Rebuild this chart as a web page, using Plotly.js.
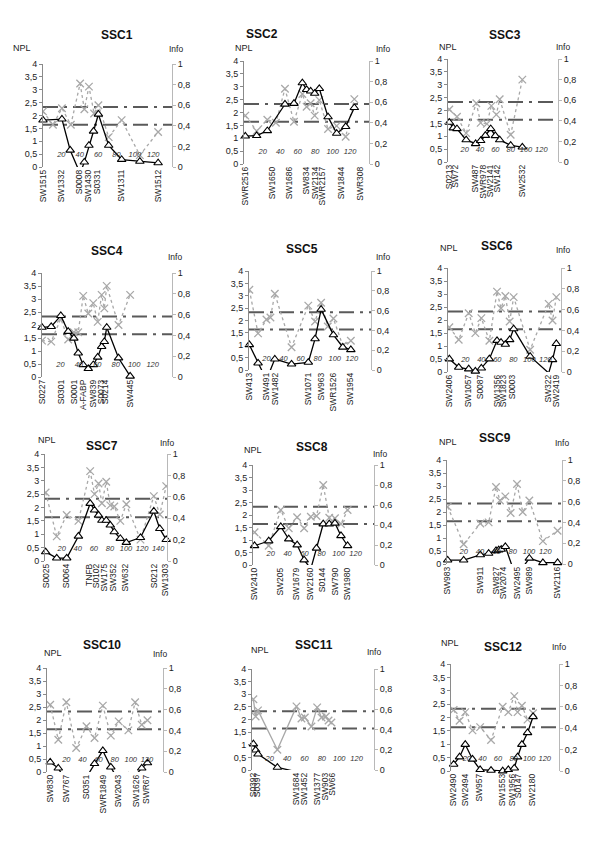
<!DOCTYPE html>
<html><head><meta charset="utf-8">
<script src="https://cdn.plot.ly/plotly-3.0.1.min.js"></script>
<style>body{margin:0;background:#fff}#c{width:600px;height:850px}</style>
</head><body><div id="c"></div>
<script>
// ---------------- DATA ----------------
const thresholds = [2.33, 1.64];
const cmTicks = [20, 40, 60, 80, 100, 120];
const cmTicks7 = [20, 40, 60, 80, 100, 120, 140];

const ssc1_cm = [0, 20.6, 29.6, 40.4, 45, 50, 55, 60.3, 71.5, 85.6, 105.4, 125.3];
const ssc1_npl = [1.82, 1.86, 0.65, -0.25, 0.19, 0.84, 1.39, 2.05, 0.84, 0.29, 0.22, 0.16];
const ssc1_info_cm = [0, 10.8, 20.6, 30.3, 40.4, 45, 50, 55.6, 60.3, 71.5, 85.6, 105.4, 125.3];
const ssc1_info = [0.54, 0.41, 0.57, 0.41, 0.81, 0.56, 0.78, 0.52, 0.60, 0.29, 0.455, 0.115, 0.34];
const ssc1_markers = ['SW1515', 'SW1332', 'S0008', 'SW1430', 'S0331', 'SW1311', 'SW1512'];
const ssc1_marker_cm = [0, 20.2, 39.4, 49.5, 59.2, 85.6, 125.3];

const ssc2_cm = [0, 13, 25.2, 45.4, 55.7, 65.3, 70.2, 74.8, 79.4, 84.7, 94.7, 104.6, 114.9, 124.8];
const ssc2_npl = [1.08, 1.10, 1.29, 2.32, 2.35, 3.15, 2.89, 2.83, 2.74, 2.93, 1.83, 1.19, 1.45, 2.19];
const ssc2_info_cm = [0, 13, 25.2, 35, 45.4, 55.7, 65.3, 70.2, 74.8, 79.4, 84.7, 94.7, 104.6, 114.9, 124.8];
const ssc2_info = [0.47, 0.32, 0.43, 0.40, 0.73, 0.41, 0.68, 0.555, 0.59, 0.47, 0.62, 0.34, 0.37, 0.265, 0.63];
const ssc2_markers = ['SWR2516', 'SW1650', 'SW1686', 'SW834', 'SW2134', 'SWR2157', 'SW1844', 'SWR308'];
const ssc2_marker_cm = [0, 31.3, 50.4, 70.2, 79.8, 88.5, 110.3, 131.3];

const ssc3_cm = [0, 5.2, 10, 22, 34.3, 40.9, 47, 54, 60, 65.7, 80, 95.2];
const ssc3_npl = [1.54, 1.32, 1.29, 0.86, 0.71, 0.83, 1.03, 1.29, 1.02, 0.86, 0.645, 0.58];
const ssc3_info_cm = [0, 10, 22, 35.2, 40.9, 49, 54.8, 61.3, 65.7, 80, 95.2];
const ssc3_info = [0.51, 0.44, 0.28, 0.57, 0.38, 0.37, 0.545, 0.46, 0.61, 0.265, 0.80];
const ssc3_markers = ['S0213', 'SW72', 'SW487', 'SWR978', 'SW2141', 'SW142', 'SW2532'];
const ssc3_marker_cm = [0, 8.3, 34.3, 43.9, 53.5, 62.6, 94.8];

const ssc4_cm = [0, 10, 20.4, 28.4, 34.5, 39.3, 44.7, 50.2, 55.6, 60.4, 64.7, 67.6, 70.2, 83, 95.6];
const ssc4_npl = [1.91, 1.94, 2.36, 1.75, 1.49, 0.92, 0.47, 0.32, 0.47, 0.76, 1.17, 1.36, 1.91, 0.73, 0.03];
const ssc4_info_cm = [0, 10, 20.4, 28.4, 34.5, 39.3, 44.7, 50.2, 55.6, 60.4, 64.7, 67.6, 70.2, 83, 95.6];
const ssc4_info = [0.35, 0.34, 0.56, 0.36, 0.43, 0.43, 0.78, 0.61, 0.71, 0.53, 0.79, 0.66, 0.876, 0.50, 0.79];
const ssc4_markers = ['S0227', 'S0301', 'S0001', 'A-FABP', 'SW839', 'S0073', 'S0214', 'SW445'];
const ssc4_marker_cm = [0.4, 20.4, 34.5, 44.7, 55.6, 64, 68.7, 95.6];

const ssc5_cm = [0, 10.2, 20, 29.8, 49.4, 69, 76.9, 84, 98.4, 109.4, 118.8];
const ssc5_npl = [1.02, 0.28, -0.4, 0.44, 0.24, 0.31, 1.26, 2.45, 1.42, 0.92, 0.82];
const ssc5_info_cm = [0, 10.2, 20, 24.7, 29.8, 49.4, 69, 76.9, 84, 91.8, 98.4, 109.4, 118.8];
const ssc5_info = [0.81, 0.37, 0.51, 0.53, 0.77, 0.23, 0.65, 0.49, 0.68, 0.44, 0.52, 0.245, 0.295];
const ssc5_markers = ['SW413', 'SW491', 'SW1482', 'SW1071', 'SW963', 'SWR1526', 'SW1954'];
const ssc5_marker_cm = [0.4, 20, 29.8, 69, 84.7, 98.4, 118];

const ssc6_cm = [0, 11.7, 24.2, 32.5, 40, 50, 59.6, 64.6, 70, 75.4, 80.4, 101, 124.2, 129, 133.75];
const ssc6_npl = [0.5, 0.18, 0.115, 0.03, 0.15, 0.5, 1.21, 1.14, 1.06, 1.24, 1.66, 0.6, -0.04, 0.47, 1.09];
const ssc6_info_cm = [0, 11.7, 24.2, 32.5, 40, 50, 59.6, 64.6, 70, 75.4, 80.4, 101, 124.2, 129, 133.75];
const ssc6_info = [0.43, 0.31, 0.565, 0.374, 0.518, 0.30, 0.773, 0.613, 0.73, 0.486, 0.72, 0.214, 0.655, 0.495, 0.72];
const ssc6_markers = ['SW2406', 'SW1057', 'S0087', 'SW1356', 'SW1823', 'S0003', 'SW322', 'SW2419'];
const ssc6_marker_cm = [0.4, 24.2, 38.75, 59.6, 67.9, 79.2, 124.2, 133.75];

const ssc7_cm = [0, 13.8, 26.2, 40.8, 55.4, 60.8, 65.8, 70, 75.4, 80.4, 85.4, 92.9, 100.4, 118, 134.6, 142, 150];
const ssc7_npl = [0.34, 0.11, 0.11, 0.925, 2.15, 1.9, 1.71, 1.52, 1.52, 1.34, 1.09, 0.84, 0.69, 0.875, 1.86, 1.21, 0.80];
const ssc7_info_cm = [0, 13.8, 26.2, 40.8, 55.4, 60.8, 65.8, 70, 75.4, 80.4, 85.4, 92.9, 100.4, 118, 134.6, 142, 150];
const ssc7_info = [0.64, 0.23, 0.43, 0.375, 0.84, 0.625, 0.725, 0.54, 0.74, 0.52, 0.51, 0.375, 0.53, 0.2, 0.606, 0.434, 0.70];
const ssc7_markers = ['S0025', 'S0064', 'TNFB', 'S0102', 'SW175', 'SW352', 'SW632', 'S0212', 'SW1303'];
const ssc7_marker_cm = [0.4, 26.2, 54.6, 62.9, 73.3, 84.6, 99.2, 134.6, 149.2];

const ssc8_cm = [1, 17.7, 31.9, 41.3, 51.2, 59.4, 67.3, 74, 81.9, 89, 95.7, 102.8, 110.6];
const ssc8_npl = [0.77, 0.96, 1.53, 1.04, 0.8, 0.2, -0.15, 0.67, 1.64, 1.64, 1.67, 1.17, 0.77];
const ssc8_info_cm = [1, 17.7, 31.9, 41.3, 51.2, 59.4, 67.3, 74, 81.9, 89, 95.7, 102.8, 110.6];
const ssc8_info = [0.327, 0.193, 0.55, 0.367, 0.477, 0.367, 0.483, 0.49, 0.8, 0.473, 0.467, 0.41, 0.55];
const ssc8_markers = ['SW2410', 'SW205', 'SW1679', 'SW2160', 'S0144', 'SW790', 'SW1980'];
const ssc8_marker_cm = [1.2, 30.7, 50.4, 66.1, 81.1, 95.7, 110.6];

const ssc9_cm = [0.4, 20, 40.4, 50.6, 59.6, 62.9, 66, 71, 84, 100.4, 117, 135];
const ssc9_npl = [0.15, 0.15, 0.35, 0.41, 0.51, 0.54, 0.56, 0.67, -0.5, 0.22, 0.05, 0.05];
const ssc9_info_cm = [0.4, 20, 40.4, 50.6, 59.6, 64.5, 71, 77.5, 85.3, 92.3, 100.4, 117, 135];
const ssc9_info = [0.55, 0.19, 0.39, 0.40, 0.74, 0.61, 0.65, 0.49, 0.77, 0.50, 0.61, 0.22, 0.32];
const ssc9_markers = ['SW983', 'SW911', 'SW827', 'SW2074', 'SW2495', 'SW989', 'SW2116'];
const ssc9_marker_cm = [0.4, 40.4, 59.6, 69, 85.3, 100.4, 135];

const ssc10_cm = [0, 10, 20, 32.2, 45, 55, 65.3, 75.2, 85, 97, 105.4, 113.6, 120.7];
const ssc10_npl = [0.38, 0.15, -0.4, -0.5, -0.2, 0.32, 0.82, 0.19, -0.35, -0.02, -0.15, 0.15, 0.35];
const ssc10_info_cm = [0, 10, 20, 32.2, 45, 55, 65.3, 75.2, 85, 97, 105.4, 113.6, 120.7];
const ssc10_info = [0.647, 0.31, 0.67, 0.23, 0.44, 0.327, 0.638, 0.35, 0.487, 0.40, 0.67, 0.455, 0.497];
const ssc10_markers = ['SW830', 'SW767', 'S0351', 'SWR1849', 'SW2043', 'SW1626', 'SWR67'];
const ssc10_marker_cm = [0, 19.8, 44.6, 65.3, 84.7, 107.4, 119.8];

const ssc11_cm = [1.2, 3.8, 6.5, 28.8, 50.8];
const ssc11_npl = [1.03, 0.79, 0.63, 0.105, -0.07];
const ssc11_info_cm = [1.2, 3.8, 6.5, 28.8, 50.8, 56.5, 60.4, 68, 74.6, 79.6, 84.6, 87.7, 91];
const ssc11_info = [0.70, 0.53, 0.59, 0.20, 0.63, 0.51, 0.52, 0.43, 0.62, 0.52, 0.53, 0.49, 0.47];
const ssc11_markers = ['S0392', 'S0397', 'SW1684', 'SW1452', 'SW1377', 'SW903', 'SW66'];
const ssc11_marker_cm = [0.8, 5.8, 50.8, 59.6, 74.6, 83.5, 91.9];

const ssc12_cm = [3, 10.6, 17.9, 27.2, 37, 51, 66, 73.2, 80.9, 85.1, 90.6, 97.9, 105];
const ssc12_npl = [0.25, 0.525, 0.99, 0.44, 0.05, 0.025, 0.0, 0.05, 0.11, 0.525, 0.99, 1.43, 2.03];
const ssc12_info_cm = [3, 10.6, 17.9, 27.2, 37, 51, 66, 73.2, 80.9, 85.1, 90.6, 97.9, 105];
const ssc12_info = [0.57, 0.47, 0.55, 0.38, 0.41, 0.29, 0.60, 0.55, 0.70, 0.55, 0.61, 0.48, 0.54];
const ssc12_markers = ['SW2490', 'SW2494', 'SW957', 'SW1553', 'SW1956', 'S0147', 'SW2180'];
const ssc12_marker_cm = [3, 17.9, 36.2, 66, 78.7, 86, 104.3];

// ---------------- LAYOUT CONFIG (pixel geometry) ----------------
const FONT = 'Liberation Sans, Arial, sans-serif';
const W = 600, H = 850;
const CM_LABEL_Y = 0.45;
const panels = [
  {name:'SSC1', cm:ssc1_cm, npl:ssc1_npl, icm:ssc1_info_cm, info:ssc1_info, mk:ssc1_markers, mkcm:ssc1_marker_cm, box:[43,172,64,167], xr:[0,140.4], ticks:cmTicks, t:[117,35], n:[22,48], i:[176,49]},
  {name:'SSC2', cm:ssc2_cm, npl:ssc2_npl, icm:ssc2_info_cm, info:ssc2_info, mk:ssc2_markers, mkcm:ssc2_marker_cm, box:[244,369,61,164], xr:[-1.5,141.6], ticks:cmTicks, t:[262,34], n:[244,48], i:[383,49]},
  {name:'SSC3', cm:ssc3_cm, npl:ssc3_npl, icm:ssc3_info_cm, info:ssc3_info, mk:ssc3_markers, mkcm:ssc3_marker_cm, box:[448,558,59,162], xr:[-1.7,141.7], ticks:cmTicks, t:[505,35], n:[448,47], i:[563,47]},
  {name:'SSC4', cm:ssc4_cm, npl:ssc4_npl, icm:ssc4_info_cm, info:ssc4_info, mk:ssc4_markers, mkcm:ssc4_marker_cm, box:[42,172,273,377], xr:[0,141], ticks:cmTicks, t:[107,251], n:null, i:[175,257]},
  {name:'SSC5', cm:ssc5_cm, npl:ssc5_npl, icm:ssc5_info_cm, info:ssc5_info, mk:ssc5_markers, mkcm:ssc5_marker_cm, box:[249,371,271,370], xr:[-0.4,142.4], ticks:cmTicks, t:[302,249], n:null, i:[383,257]},
  {name:'SSC6', cm:ssc6_cm, npl:ssc6_npl, icm:ssc6_info_cm, info:ssc6_info, mk:ssc6_markers, mkcm:ssc6_marker_cm, box:[448,561,268,372], xr:[-1.7,139.6], ticks:cmTicks, t:[497,246], n:[449,248], i:[563,250]},
  {name:'SSC7', cm:ssc7_cm, npl:ssc7_npl, icm:ssc7_info_cm, info:ssc7_info, mk:ssc7_markers, mkcm:ssc7_marker_cm, box:[45,167,454,561], xr:[-0.8,151], ticks:cmTicks7, t:[102,446], n:[47,440], i:[167,443]},
  {name:'SSC8', cm:ssc8_cm, npl:ssc8_npl, icm:ssc8_info_cm, info:ssc8_info, mk:ssc8_markers, mkcm:ssc8_marker_cm, box:[253,374,465,565], xr:[-0.8,141.7], ticks:cmTicks, t:[312,447], n:[253,450], i:[380,454]},
  {name:'SSC9', cm:ssc9_cm, npl:ssc9_npl, icm:ssc9_info_cm, info:ssc9_info, mk:ssc9_markers, mkcm:ssc9_marker_cm, box:[447,562,460,564], xr:[-0.4,140.4], ticks:cmTicks, t:[495,438], n:[448,442], i:[562,443]},
  {name:'SSC10', cm:ssc10_cm, npl:ssc10_npl, icm:ssc10_info_cm, info:ssc10_info, mk:ssc10_markers, mkcm:ssc10_marker_cm, box:[47,163,668,772], xr:[-4,140], ticks:cmTicks, t:[102,645], n:[53,653], i:[160,654]},
  {name:'SSC11', cm:ssc11_cm, npl:ssc11_npl, icm:ssc11_info_cm, info:ssc11_info, mk:ssc11_markers, mkcm:ssc11_marker_cm, box:[252,374,669,770], xr:[-0.4,140], ticks:cmTicks, t:[314,645], n:[260,650], i:[374,652], solidInfo:true},
  {name:'SSC12', cm:ssc12_cm, npl:ssc12_npl, icm:ssc12_info_cm, info:ssc12_info, mk:ssc12_markers, mkcm:ssc12_marker_cm, box:[451,559,664,771], xr:[-0.4,138.3], ticks:cmTicks, t:[503,647], n:[450,643], i:[559,647]}
];

const data = [];
const layout = {
  width: W, height: H, margin: {l:0, r:0, t:0, b:0}, showlegend: false,
  separators: ', ', paper_bgcolor: '#ffffff', plot_bgcolor: 'rgba(0,0,0,0)',
  font: {family: FONT, size: 9, color: '#222'}, shapes: [], annotations: []
};

panels.forEach((p, k) => {
  const n = k + 1;
  const xa = n === 1 ? 'x' : 'x' + n;
  const yiIdx = 2 * n - 1, ynIdx = 2 * n;
  const yi = yiIdx === 1 ? 'y' : 'y' + yiIdx;
  const yn = 'y' + ynIdx;
  const [l, r, t, b] = p.box;

  layout[n === 1 ? 'xaxis' : 'xaxis' + n] = {
    domain: [l / W, r / W], anchor: yi, range: p.xr, showline: false, showgrid: false, zeroline: false,
    tickmode: 'array', tickvals: p.mkcm, ticktext: p.mk, tickangle: -90, ticks: '',
    tickfont: {size: 8.5, color: '#222'}, fixedrange: true
  };
  layout[yiIdx === 1 ? 'yaxis' : 'yaxis' + yiIdx] = {
    domain: [1 - b / H, 1 - t / H], anchor: xa, side: 'right', range: [0, 1], tick0: 0, dtick: 0.2,
    showline: true, linecolor: '#b8b8b8', linewidth: 1, ticks: 'outside', ticklen: 3, tickcolor: '#b8b8b8',
    showgrid: false, zeroline: false, tickfont: {size: 9, color: '#222'}, fixedrange: true
  };
  layout['yaxis' + ynIdx] = {
    overlaying: yi, anchor: xa, side: 'left', range: [0, 4], tick0: 0, dtick: 0.5,
    showline: true, linecolor: '#8a8a8a', linewidth: 1, ticks: 'outside', ticklen: 3, tickcolor: '#8a8a8a',
    showgrid: false, zeroline: false, tickfont: {size: 9, color: '#222'}, fixedrange: true
  };

  thresholds.forEach(v => {
    layout.shapes.push({type: 'line', xref: xa + ' domain', x0: 0, x1: 1, yref: yn, y0: v, y1: v,
      line: {color: '#5a5a5a', width: 2, dash: 'longdashdot'}, layer: 'below'});
  });

  data.push({x: p.icm, y: p.info, xaxis: xa, yaxis: yi, type: 'scatter', mode: 'lines+markers',
    line: {color: '#a8a8a8', width: 1.3, dash: p.solidInfo ? 'solid' : 'dot'},
    marker: {symbol: 'x-thin-open', size: 7.5, line: {color: '#9a9a9a', width: 1.3}},
    hoverinfo: 'skip'});

  data.push({x: p.cm, y: p.npl, xaxis: xa, yaxis: yn, type: 'scatter', mode: 'lines',
    line: {color: '#000', width: 1.3}, hoverinfo: 'skip'});
  const mx = [], my = [];
  p.cm.forEach((c, j) => { if (p.npl[j] >= 0) { mx.push(c); my.push(p.npl[j]); } });
  data.push({x: mx, y: my, xaxis: xa, yaxis: yn, type: 'scatter', mode: 'markers', cliponaxis: false,
    marker: {symbol: 'triangle-up', size: 7.5, color: '#fff', line: {color: '#000', width: 1.1}}, hoverinfo: 'skip'});

  data.push({x: p.ticks, y: p.ticks.map(() => CM_LABEL_Y), xaxis: xa, yaxis: yn, type: 'scatter', mode: 'text',
    text: p.ticks.map(v => String(v)), textposition: 'middle center', cliponaxis: false,
    textfont: {size: 7.5, style: 'italic', color: '#333', family: FONT}, hoverinfo: 'skip'});

  layout.annotations.push({xref: 'paper', yref: 'paper', x: p.t[0] / W, y: 1 - p.t[1] / H, text: '<b>' + p.name + '</b>',
    showarrow: false, xanchor: 'center', yanchor: 'middle', font: {size: 12, color: '#111'}});
  if (p.n) layout.annotations.push({xref: 'paper', yref: 'paper', x: p.n[0] / W, y: 1 - p.n[1] / H, text: 'NPL',
    showarrow: false, xanchor: 'center', yanchor: 'middle', font: {size: 9, color: '#222'}});
  if (p.i) layout.annotations.push({xref: 'paper', yref: 'paper', x: p.i[0] / W, y: 1 - p.i[1] / H, text: 'Info',
    showarrow: false, xanchor: 'center', yanchor: 'middle', font: {size: 8.5, color: '#222'}});
});

Plotly.newPlot('c', data, layout, {staticPlot: true, displayModeBar: false});
</script>
</body></html>
